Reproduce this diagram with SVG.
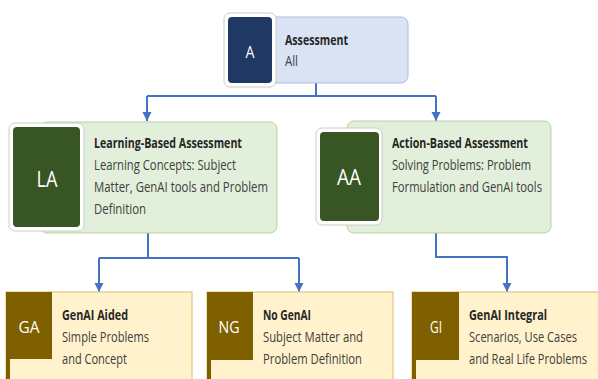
<svg xmlns="http://www.w3.org/2000/svg" width="598" height="379" viewBox="0 0 598 379">
<defs>
<marker id="arr" viewBox="0 0 10 10" refX="10" refY="5" markerWidth="9" markerHeight="11" markerUnits="userSpaceOnUse" orient="auto">
<path d="M0,0 L10,5 L0,10 z" fill="#4472c4"/>
</marker>
<style>
.t{font-family:"Open Sans","Noto Sans","Liberation Sans",sans-serif;font-size:15px;fill:#404040}
.h{font-weight:bold;fill:#262626}
.w{font-family:"Open Sans","Noto Sans","Liberation Sans",sans-serif;fill:#ffffff}
.con{fill:none;stroke:#4472c4;stroke-width:2}
.blue{fill:#dae3f3;stroke:#a9bde3;stroke-width:1}
.green{fill:#e2efda;stroke:#b5d3a0;stroke-width:1}
.yel{fill:#fff2cc;stroke:#e3c878;stroke-width:1.2}
.frame{fill:#ffffff;stroke:#c8cfc4;stroke-width:1}
</style>
</defs>
<rect width="598" height="379" fill="#ffffff"/>

<g id="connectors">
<path class="con" d="M316,83 V96 M147,96 H436"/>
<path class="con" d="M147,96 V121" marker-end="url(#arr)"/>
<path class="con" d="M436,96 V121" marker-end="url(#arr)"/>
<path class="con" d="M148,233 V258 M99,258 H299"/>
<path class="con" d="M99,258 V292" marker-end="url(#arr)"/>
<path class="con" d="M299,258 V292" marker-end="url(#arr)"/>
<path class="con" d="M436,233 V257 H507 V292" marker-end="url(#arr)"/>
</g>

<g id="node-A">
<rect class="blue" x="250" y="17" width="158" height="66" rx="7"/>
<rect class="frame" x="224" y="13" width="52" height="74" rx="6"/>
<rect x="228" y="17" width="44" height="66" rx="4" fill="#1f3864"/>
<text class="w" x="250" y="58" font-size="16" text-anchor="middle" textLength="9" lengthAdjust="spacingAndGlyphs">A</text>
<text class="t h" x="285" y="45" textLength="63" lengthAdjust="spacingAndGlyphs">Assessment</text>
<text class="t" x="285" y="66" textLength="13" lengthAdjust="spacingAndGlyphs">All</text>
</g>

<g id="node-LA">
<rect class="green" x="40" y="122" width="237" height="111" rx="7"/>
<rect class="frame" x="9" y="123" width="75" height="108" rx="6"/>
<rect x="13" y="127" width="67" height="100" rx="4" fill="#375623"/>
<text class="w" x="47" y="187" font-size="21" text-anchor="middle" textLength="21" lengthAdjust="spacingAndGlyphs">LA</text>
<text class="t h" x="94" y="148" textLength="148" lengthAdjust="spacingAndGlyphs">Learning-Based Assessment</text>
<text class="t" x="94" y="170" textLength="142" lengthAdjust="spacingAndGlyphs">Learning Concepts: Subject</text>
<text class="t" x="94" y="192" textLength="174" lengthAdjust="spacingAndGlyphs">Matter, GenAI tools and Problem</text>
<text class="t" x="94" y="214" textLength="52" lengthAdjust="spacingAndGlyphs">Definition</text>
</g>

<g id="node-AA">
<rect class="green" x="347" y="121" width="204" height="112" rx="7"/>
<rect class="frame" x="316" y="128" width="66" height="97" rx="6"/>
<rect x="320" y="132" width="59" height="89" rx="4" fill="#375623"/>
<text class="w" x="349" y="185" font-size="21" text-anchor="middle" textLength="24" lengthAdjust="spacingAndGlyphs">AA</text>
<text class="t h" x="392" y="148" textLength="136" lengthAdjust="spacingAndGlyphs">Action-Based Assessment</text>
<text class="t" x="392" y="170" textLength="139" lengthAdjust="spacingAndGlyphs">Solving Problems: Problem</text>
<text class="t" x="392" y="192" textLength="150" lengthAdjust="spacingAndGlyphs">Formulation and GenAI tools</text>
</g>

<g id="node-GA">
<rect class="yel" x="6" y="292" width="186" height="100"/>
<rect x="6" y="292" width="46" height="67" fill="#7f6000"/>
<rect x="6" y="292" width="4" height="100" fill="#7f6000"/>
<text class="w" x="29" y="333" font-size="16" text-anchor="middle" textLength="21" lengthAdjust="spacingAndGlyphs">GA</text>
<text class="t h" x="62" y="320" textLength="66" lengthAdjust="spacingAndGlyphs">GenAI Aided</text>
<text class="t" x="62" y="342" textLength="87" lengthAdjust="spacingAndGlyphs">Simple Problems</text>
<text class="t" x="62" y="364" textLength="65" lengthAdjust="spacingAndGlyphs">and Concept</text>
</g>

<g id="node-NG">
<rect class="yel" x="207" y="292" width="186" height="100"/>
<rect x="207" y="292" width="46" height="68" fill="#7f6000"/>
<rect x="207" y="292" width="4" height="100" fill="#7f6000"/>
<text class="w" x="229" y="333" font-size="16" text-anchor="middle" textLength="21" lengthAdjust="spacingAndGlyphs">NG</text>
<text class="t h" x="263" y="320" textLength="48" lengthAdjust="spacingAndGlyphs">No GenAI</text>
<text class="t" x="263" y="342" textLength="100" lengthAdjust="spacingAndGlyphs">Subject Matter and</text>
<text class="t" x="263" y="364" textLength="99" lengthAdjust="spacingAndGlyphs">Problem Definition</text>
</g>

<g id="node-GI">
<rect class="yel" x="412" y="292" width="187" height="100"/>
<rect x="412" y="292" width="47" height="68" fill="#7f6000"/>
<rect x="412" y="292" width="4" height="100" fill="#7f6000"/>
<text class="w" x="436" y="333" font-size="16" text-anchor="middle" textLength="12" lengthAdjust="spacingAndGlyphs">GI</text>
<text class="t h" x="469" y="320" textLength="78" lengthAdjust="spacingAndGlyphs">GenAI Integral</text>
<text class="t" x="469" y="342" textLength="108" lengthAdjust="spacingAndGlyphs">Scenarios, Use Cases</text>
<text class="t" x="469" y="364" textLength="118" lengthAdjust="spacingAndGlyphs">and Real Life Problems</text>
</g>
</svg>
